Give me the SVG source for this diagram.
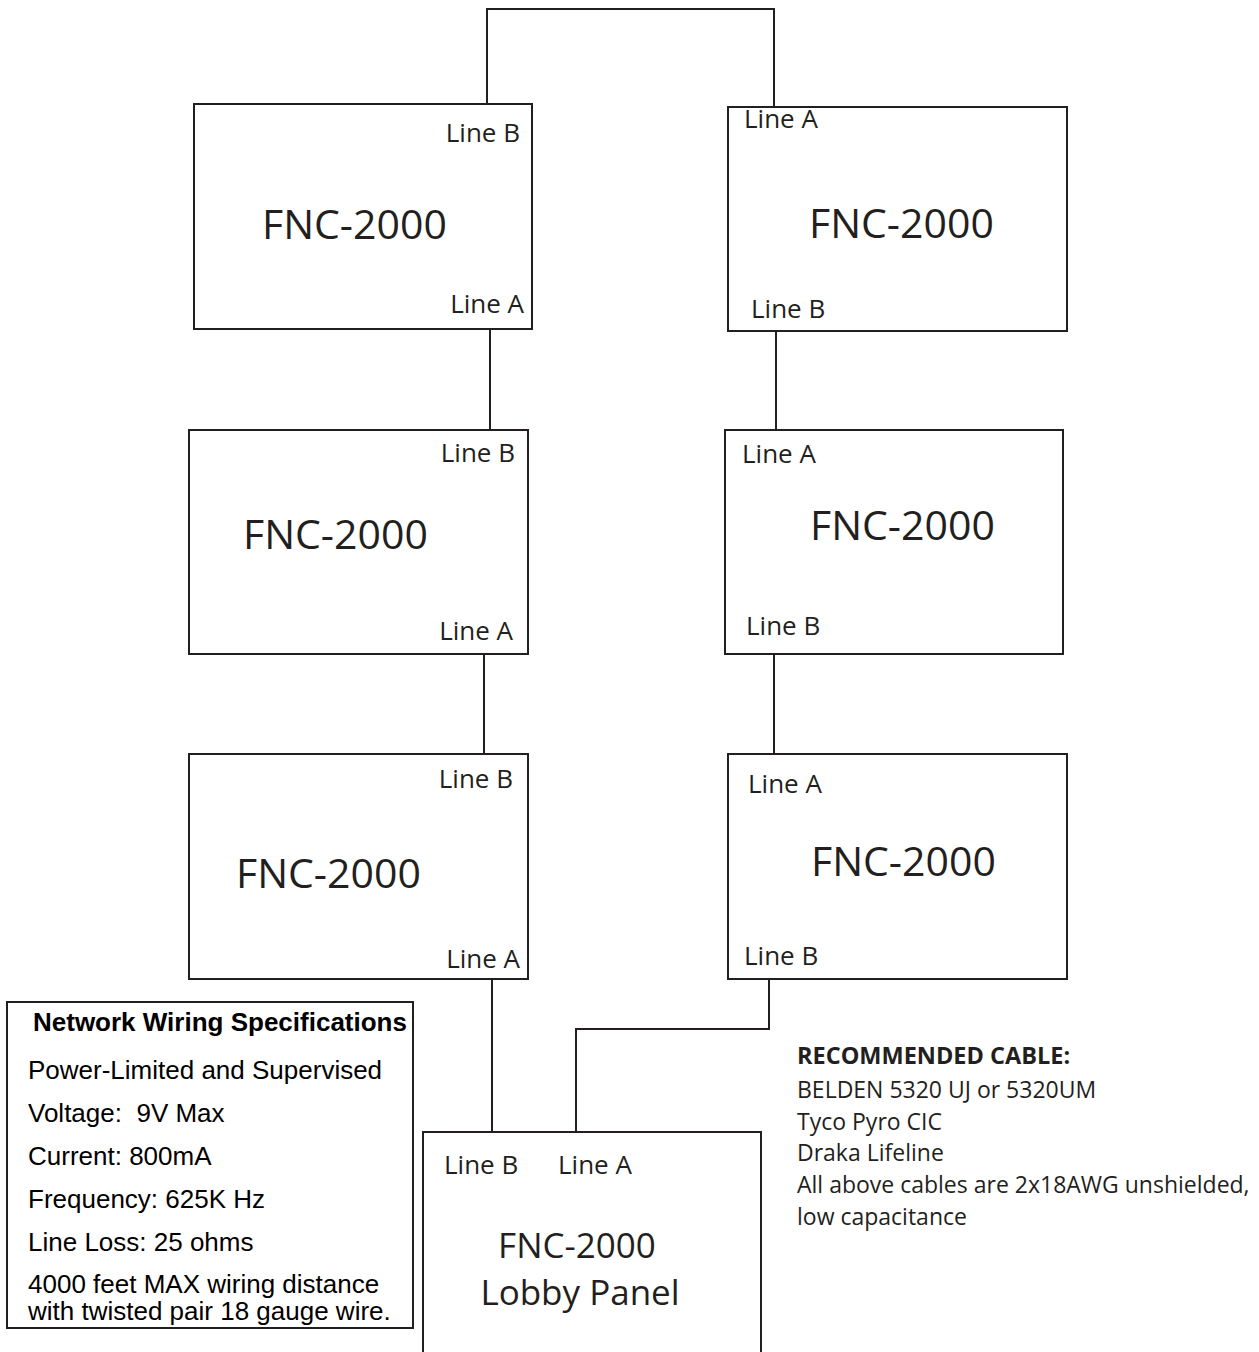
<svg xmlns="http://www.w3.org/2000/svg" width="1259" height="1352" viewBox="0 0 1259 1352">
<style>
.box{fill:#fff;stroke:#231f20;stroke-width:2}
.wire{fill:none;stroke:#231f20;stroke-width:2}
.lbl{font-family:"Open Sans","Noto Sans",sans-serif;font-size:26px;fill:#231f20}
.big{font-family:"Open Sans","Noto Sans",sans-serif;font-size:41px;fill:#231f20}
.lob{font-family:"Open Sans","Noto Sans",sans-serif;font-size:35px;fill:#231f20}
.spec{font-family:"Liberation Sans",Arial,sans-serif;font-size:26px;fill:#000}
.spech{font-family:"Liberation Sans",Arial,sans-serif;font-size:26px;font-weight:bold;fill:#000}
.cab{font-family:"Open Sans","Noto Sans",sans-serif;font-size:23px;fill:#231f20}
.cabh{font-family:"Open Sans","Noto Sans",sans-serif;font-size:23.5px;font-weight:bold;fill:#231f20}
.end{text-anchor:end}
.mid{text-anchor:middle}
</style>
<rect width="1259" height="1352" fill="#fff"/>
<g id="connectors">
<path class="wire" d="M487,104 V9 H774 V107"/>
<path class="wire" d="M490,329 V430"/>
<path class="wire" d="M776,331 V430"/>
<path class="wire" d="M484,654 V754"/>
<path class="wire" d="M774,654 V754"/>
<path class="wire" d="M492,979 V1132"/>
<path class="wire" d="M769,979 V1029 H576 V1132"/>
</g>
<g id="node-l1">
<rect class="box" x="194" y="104" width="338" height="225"/>
<text class="lbl end" x="520" y="142">Line B</text>
<text class="big" x="262" y="239">FNC-2000</text>
<text class="lbl end" x="524" y="313">Line A</text>
</g>
<g id="node-r1">
<rect class="box" x="728" y="107" width="339" height="224"/>
<text class="lbl" x="744" y="128">Line A</text>
<text class="big" x="809" y="238">FNC-2000</text>
<text class="lbl" x="751" y="318">Line B</text>
</g>
<g id="node-l2">
<rect class="box" x="189" y="430" width="339" height="224"/>
<text class="lbl end" x="515" y="462">Line B</text>
<text class="big" x="243" y="549">FNC-2000</text>
<text class="lbl end" x="513" y="640">Line A</text>
</g>
<g id="node-r2">
<rect class="box" x="725" y="430" width="338" height="224"/>
<text class="lbl" x="742" y="463">Line A</text>
<text class="big" x="810" y="540">FNC-2000</text>
<text class="lbl" x="746" y="635">Line B</text>
</g>
<g id="node-l3">
<rect class="box" x="189" y="754" width="339" height="225"/>
<text class="lbl end" x="513" y="788">Line B</text>
<text class="big" x="236" y="888">FNC-2000</text>
<text class="lbl end" x="520" y="968">Line A</text>
</g>
<g id="node-r3">
<rect class="box" x="728" y="754" width="339" height="225"/>
<text class="lbl" x="748" y="793">Line A</text>
<text class="big" x="811" y="876">FNC-2000</text>
<text class="lbl" x="744" y="965">Line B</text>
</g>
<g id="node-lobby">
<rect class="box" x="423" y="1132" width="338" height="240"/>
<text class="lbl" x="444" y="1174">Line B</text>
<text class="lbl" x="558" y="1174">Line A</text>
<text class="lob mid" x="577" y="1258">FNC-2000</text>
<text class="lob mid" x="580" y="1305">Lobby Panel</text>
</g>
<g id="specs">
<rect class="box" x="7" y="1002" width="406" height="326"/>
<text class="spech" x="33" y="1031">Network Wiring Specifications</text>
<text class="spec" x="28" y="1079">Power-Limited and Supervised</text>
<text class="spec" x="28" y="1122" xml:space="preserve">Voltage:  9V Max</text>
<text class="spec" x="28" y="1165">Current: 800mA</text>
<text class="spec" x="28" y="1208">Frequency: 625K Hz</text>
<text class="spec" x="28" y="1251">Line Loss: 25 ohms</text>
<text class="spec" x="28" y="1293">4000 feet MAX wiring distance</text>
<text class="spec" x="28" y="1320">with twisted pair 18 gauge wire.</text>
</g>
<g id="cable-note">
<text class="cabh" x="797" y="1064">RECOMMENDED CABLE:</text>
<text class="cab" x="797" y="1098">BELDEN 5320 UJ or 5320UM</text>
<text class="cab" x="797" y="1130">Tyco Pyro CIC</text>
<text class="cab" x="797" y="1161">Draka Lifeline</text>
<text class="cab" x="797" y="1193">All above cables are 2x18AWG unshielded,</text>
<text class="cab" x="797" y="1225">low capacitance</text>
</g>
</svg>
